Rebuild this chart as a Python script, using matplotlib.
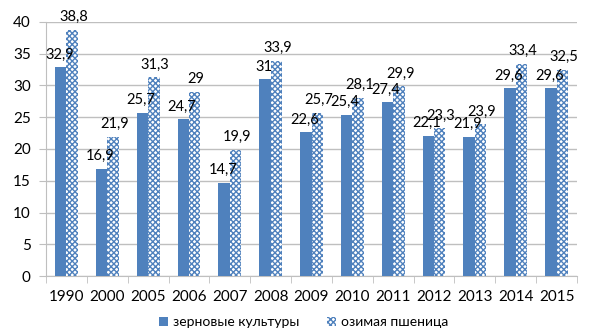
import numpy as np
import matplotlib.pyplot as plt

years = ['1990', '2000', '2005', '2006', '2007', '2008', '2009', '2010',
         '2011', '2012', '2013', '2014', '2015']
grain = [32.9, 16.9, 25.7, 24.7, 14.7, 31.0, 22.6, 25.4, 27.4, 22.1, 21.9, 29.6, 29.6]
wheat = [38.8, 21.9, 31.3, 29.0, 19.9, 33.9, 25.7, 28.1, 29.9, 23.3, 23.9, 33.4, 32.5]

blue = '#4F81BD'
plt.rcParams['font.family'] = ['Lato', 'DejaVu Sans']
plt.rcParams['hatch.linewidth'] = 1.0

fig = plt.figure(figsize=(6.08, 3.34), dpi=100)
ax = fig.add_axes([46/608, 1 - 276/334, 531/608, 254/334])

x = np.arange(len(years))
w = 0.28
b1 = ax.bar(x - w/2, grain, w, color=blue, label='зерновые культуры', zorder=3)
b2 = ax.bar(x + w/2, wheat, w, facecolor='white', edgecolor=blue, linewidth=0,
            hatch='xxxxxx', label='озимая пшеница', zorder=3)

def fmt(v):
    s = ('%.1f' % v).rstrip('0').rstrip('.')
    return s.replace('.', ',')

for bars, vals, dx in ((b1, grain, -1), (b2, wheat, 1)):
    for r, v in zip(bars, vals):
        ax.annotate(fmt(v), (r.get_x() + r.get_width()/2, v),
                    textcoords='offset points', xytext=(dx, 4),
                    ha='center', va='bottom', fontsize=10.5, color='#000000', zorder=4)

ax.set_xlim(-0.5, len(years) - 0.5)
ax.set_ylim(0, 40)
ax.set_yticks(range(0, 41, 5))
ax.yaxis.grid(True, color='#BFBFBF', linewidth=1, zorder=0)
ax.set_xticks(x)
ax.set_xticklabels(years)
ax.set_xticks(np.arange(-0.5, len(years)), minor=True)
ax.tick_params(axis='x', which='major', length=0, pad=10, labelsize=11)
ax.tick_params(axis='x', which='minor', length=5, color='#BFBFBF')
ax.tick_params(axis='y', length=5, color='#BFBFBF', labelsize=11, pad=6)

for s in ('top', 'right'):
    ax.spines[s].set_visible(False)
ax.spines['left'].set_color('#BFBFBF')
ax.spines['bottom'].set_color('#BFBFBF')

fig.legend(handles=[b1, b2], loc='center', bbox_to_anchor=(0.5, 1 - 322/334),
           ncol=2, frameon=False, fontsize=10, handlelength=0.6, handleheight=0.6,
           columnspacing=2.0, handletextpad=0.4)

plt.savefig('out.png', dpi=100)
